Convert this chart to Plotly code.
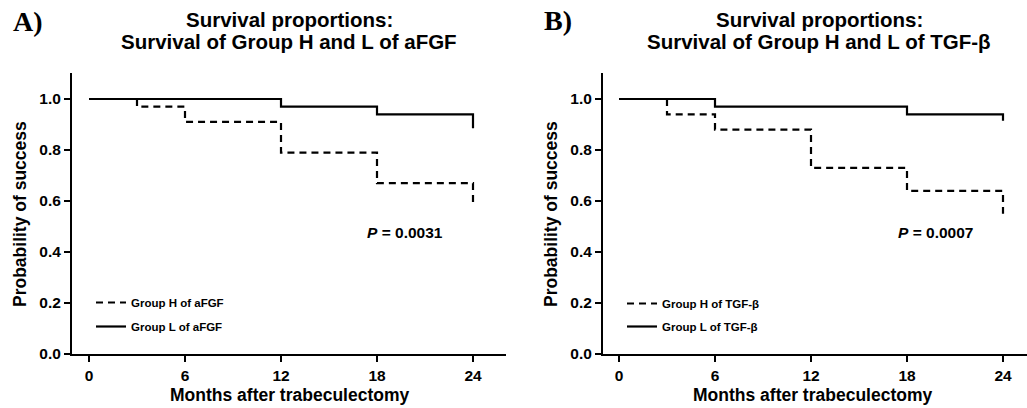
import plotly.graph_objects as go

# ---------------- data ----------------
months_ticks = [0, 6, 12, 18, 24]
prob_ticks = [0.0, 0.2, 0.4, 0.6, 0.8, 1.0]

# Panel A (aFGF)
a_h_months = [0, 3, 6, 12, 18, 24]
a_h_surv = [1.0, 0.97, 0.91, 0.79, 0.67, 0.58]
a_l_months = [0, 12, 18, 24]
a_l_surv = [1.0, 0.97, 0.94, 0.885]

# Panel B (TGF-β)
b_h_months = [0, 3, 6, 12, 18, 24]
b_h_surv = [1.0, 0.94, 0.88, 0.73, 0.64, 0.55]
b_l_months = [0, 6, 18, 24]
b_l_surv = [1.0, 0.97, 0.94, 0.915]

a_names = ["Group H of aFGF", "Group L of aFGF"]
b_names = ["Group H of TGF-β", "Group L of TGF-β"]
a_title = ["Survival proportions:", "Survival of Group H and L of aFGF"]
b_title = ["Survival proportions:", "Survival of Group H and L of TGF-β"]
a_p = "<i>P</i> = 0.0031"
b_p = "<i>P</i> = 0.0007"
x_title = "Months after trabeculectomy"
y_title = "Probability of success"

# ---------------- layout constants ----------------
W, H = 1027, 408
FONT = "Liberation Sans, Arial, sans-serif"
SERIF = "Liberation Serif, Times New Roman, serif"

def px_x(p):
    return p / W

def px_y(p):
    return 1 - p / H

fig = go.Figure()

dash = "7px,5px"
fig.add_trace(go.Scatter(x=a_h_months, y=a_h_surv, mode="lines", line_shape="hv",
                         line=dict(color="black", width=2.2, dash=dash), name=a_names[0],
                         legend="legend", legendgroup="ah", xaxis="x", yaxis="y"))
fig.add_trace(go.Scatter(x=a_l_months, y=a_l_surv, mode="lines", line_shape="hv",
                         line=dict(color="black", width=2.2), name=a_names[1],
                         legend="legend", legendgroup="al", xaxis="x", yaxis="y"))
fig.add_trace(go.Scatter(x=b_h_months, y=b_h_surv, mode="lines", line_shape="hv",
                         line=dict(color="black", width=2.2, dash=dash), name=b_names[0],
                         legend="legend2", legendgroup="bh", xaxis="x2", yaxis="y2"))
fig.add_trace(go.Scatter(x=b_l_months, y=b_l_surv, mode="lines", line_shape="hv",
                         line=dict(color="black", width=2.2), name=b_names[1],
                         legend="legend2", legendgroup="bl", xaxis="x2", yaxis="y2"))

ydom = [px_y(354), px_y(73)]
tickfont = dict(family=FONT, size=15.5, color="black", weight="bold")

common_x = dict(showgrid=False, zeroline=False, showline=True, linecolor="black", linewidth=2,
                ticks="outside", ticklen=6, tickwidth=2, tickcolor="black",
                tickvals=months_ticks, ticktext=[str(v) for v in months_ticks],
                tickfont=tickfont, fixedrange=True, automargin=False)
common_y = dict(showgrid=False, zeroline=False, showline=True, linecolor="black", linewidth=2,
                ticks="outside", ticklen=6, tickwidth=2, tickcolor="black",
                tickvals=prob_ticks, ticktext=[f"{v:.1f}" for v in prob_ticks],
                tickfont=tickfont, range=[0, 1.102], fixedrange=True, automargin=False)

fig.update_layout(
    width=W, height=H,
    margin=dict(l=0, r=0, t=0, b=0, autoexpand=False),
    paper_bgcolor="white", plot_bgcolor="white",
    font=dict(family=FONT, color="black"),
    xaxis=dict(domain=[px_x(72), px_x(506)], range=[-17 / 16, 417 / 16], anchor="y", **common_x),
    yaxis=dict(domain=ydom, anchor="x", **common_y),
    xaxis2=dict(domain=[px_x(603), 1.0], range=[-1.0, 25.5], anchor="y2", **common_x),
    yaxis2=dict(domain=ydom, anchor="x2", **common_y),
    legend=dict(x=px_x(91), y=px_y(288), xanchor="left", yanchor="top",
                bgcolor="rgba(0,0,0,0)", tracegroupgap=5,
                font=dict(family=FONT, size=11.5, color="black", weight="bold")),
    legend2=dict(x=px_x(622), y=px_y(289), xanchor="left", yanchor="top",
                 bgcolor="rgba(0,0,0,0)", tracegroupgap=4,
                 font=dict(family=FONT, size=11.5, color="black", weight="bold")),
    showlegend=True,
)

ann = []
def text(x, y, s, size, family=FONT, xanchor="center", angle=0):
    ann.append(dict(x=px_x(x), y=px_y(y), xref="paper", yref="paper", text=s, showarrow=False,
                    xanchor=xanchor, yanchor="middle", textangle=angle,
                    font=dict(family=family, size=size, color="black", weight="bold")))

# panel labels
text(28, 21, "A)", 28, family=SERIF)
text(558, 20, "B)", 28, family=SERIF)
# titles
text(289, 19, a_title[0], 20.5)
text(289, 41.5, a_title[1], 20.5)
text(819, 19, b_title[0], 20.5)
text(819, 41.5, b_title[1], 20.5)
# p values
text(405, 232, a_p, 15.5)
text(935, 232, b_p, 15.5)
# axis titles
text(289, 395, x_title, 17.5)
text(812, 395, x_title, 17.5)
text(20, 214, y_title, 17.5, angle=-90)
text(551, 214, y_title, 17.5, angle=-90)

fig.update_layout(annotations=ann)
fig.write_html("out.html", config={"displayModeBar": False},
               post_script="document.body.style.margin='0';document.body.style.overflow='hidden';")
